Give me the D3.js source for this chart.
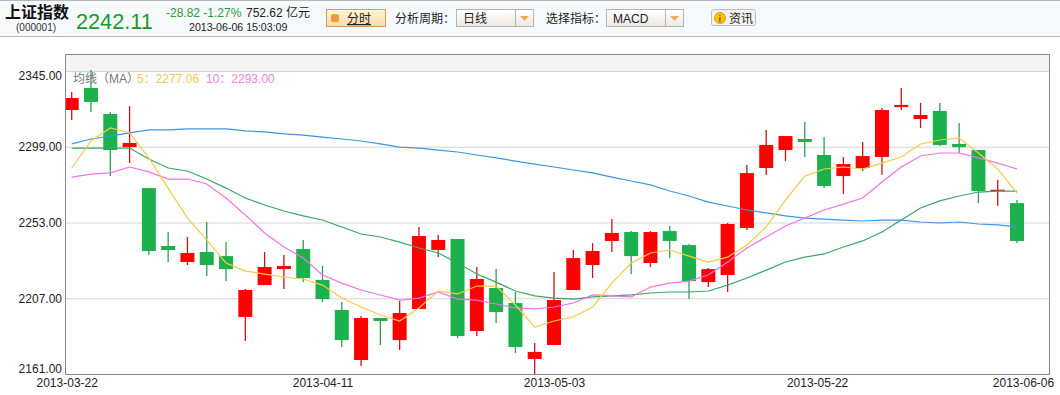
<!DOCTYPE html>
<html>
<head>
<meta charset="utf-8">
<script src="https://cdn.jsdelivr.net/npm/d3@7"></script>
<style>
  html, body { margin: 0; padding: 0; background: #fff; overflow: hidden; }
  text { font-family: "Liberation Sans", Arial, sans-serif; }
  .cjk { font-family: "Liberation Sans", "Noto Sans CJK SC", sans-serif; }
</style>
</head>
<body>
<div id="chart"></div>
<script>
const yTicks = [2345, 2299, 2253, 2207, 2161]
const tickDays = [0, 13, 25, 39, 49]
const tickDates = ["2013-03-22", "2013-04-11", "2013-05-03", "2013-05-22", "2013-06-06"]

const opens = [2321.3,2334.7,2318.9,2298.8,2273.9,2238.7,2229.0,2235.1,2232.6,2195.6,
  2215.0,2224.7,2236.9,2218.1,2199.9,2169.5,2195.0,2181.6,2200.5,2236.3,
  2243.0,2187.1,2213.2,2204.1,2170.1,2178.6,2212.0,2227.2,2241.8,2247.2,
  2228.4,2247.8,2239.3,2216.8,2221.1,2249.7,2286.1,2297.0,2303.7,2294.0,
  2281.2,2286.1,2292.8,2323.1,2315.8,2320.7,2300.7,2297.0,2272.3,2264.8]
const closes = [2328.6,2326.2,2297.0,2301.3,2235.7,2236.3,2234.5,2227.2,2224.7,2212.0,
  2226.0,2226.6,2219.3,2206.5,2181.6,2195.0,2193.2,2198.0,2244.8,2242.4,
  2184.1,2218.7,2198.6,2177.4,2174.4,2205.9,2231.4,2235.7,2246.6,2232.6,
  2247.2,2241.8,2217.4,2224.7,2252.1,2283.0,2300.1,2305.5,2301.9,2275.2,
  2288.5,2293.4,2321.3,2324.4,2318.3,2300.1,2298.8,2272.1,2272.9,2241.8]
const highs = [2332.2,2345.6,2320.1,2323.7,2273.9,2247.2,2244.2,2253.3,2241.1,2212.6,
  2235.1,2233.3,2242.4,2226.6,2204.7,2196.2,2195.0,2205.3,2250.3,2245.4,
  2243.0,2226.0,2224.7,2210.8,2179.8,2222.9,2236.3,2240.5,2255.1,2247.8,
  2247.8,2250.9,2239.9,2225.4,2252.7,2287.9,2309.2,2305.5,2314.0,2304.9,
  2292.8,2301.9,2322.5,2334.7,2325.6,2325.6,2313.4,2297.0,2279.0,2266.7]
const lows = [2315.2,2320.1,2281.2,2289.1,2233.3,2229.0,2227.2,2220.5,2217.4,2181.0,
  2215.0,2212.6,2216.8,2204.7,2177.4,2165.8,2178.6,2175.6,2200.5,2232.0,
  2182.9,2184.1,2192.0,2173.8,2161.0,2178.6,2212.0,2219.3,2235.1,2221.7,
  2226.0,2231.4,2206.5,2213.8,2210.8,2248.5,2281.8,2290.3,2292.8,2273.9,
  2270.3,2284.3,2281.8,2321.3,2310.4,2299.5,2295.2,2264.8,2263.2,2240.5]

const ma5 = [2286.1,2302.5,2310.4,2307.4,2292.2,2273.9,2255.7,2242.4,2228.4,2223.5,
  2221.7,2219.9,2218.7,2215.0,2207.1,2201.7,2196.8,2193.2,2201.1,2211.4,
  2209.6,2214.4,2214.4,2202.9,2189.5,2193.2,2195.6,2201.7,2216.2,2228.4,
  2234.5,2236.3,2232.6,2229.0,2232.0,2239.3,2250.3,2266.7,2281.2,2285.5,
  2286.7,2285.5,2289.1,2292.8,2300.7,2303.1,2304.3,2295.2,2285.5,2270.9]
const ma10 = [2280.6,2282.4,2283.1,2286.7,2283.7,2279.4,2279.4,2276.4,2267.9,2257.6,
  2246.6,2238.1,2231.4,2221.1,2216.2,2212.0,2209.0,2205.9,2207.1,2210.8,
  2206.5,2205.9,2203.5,2201.1,2200.5,2201.7,2204.1,2209.0,2208.4,2207.8,
  2213.8,2216.2,2217.4,2221.1,2229.0,2237.5,2244.2,2250.9,2255.7,2260.6,
  2264.2,2267.9,2277.6,2286.7,2293.4,2295.2,2295.2,2292.2,2289.1,2285.5]
const ma20 = [2298.2,2298.2,2298.2,2298.2,2291.6,2286.1,2284.3,2279.4,2273.9,2267.9,
  2263.6,2260.0,2257.0,2254.5,2250.3,2246.0,2244.2,2241.1,2237.5,2234.5,
  2228.4,2221.7,2216.8,2211.4,2208.4,2207.1,2206.5,2207.8,2208.4,2209.0,
  2210.2,2210.8,2210.8,2211.4,2215.0,2219.3,2224.1,2229.0,2232.0,2233.9,
  2238.1,2241.8,2247.2,2254.5,2261.8,2266.1,2269.1,2271.5,2272.1,2272.1]
const ma30 = [2300.7,2303.7,2305.5,2307.4,2309.2,2309.2,2309.8,2309.8,2309.8,2308.6,
  2308.0,2306.8,2306.1,2304.9,2303.7,2302.5,2300.7,2298.8,2298.2,2297.0,
  2295.8,2294.0,2292.2,2290.3,2288.5,2286.7,2284.9,2283.1,2280.6,2278.2,
  2275.8,2272.1,2269.1,2265.4,2263.0,2260.6,2258.8,2257.0,2255.7,2255.1,
  2254.5,2253.9,2254.5,2254.5,2253.3,2252.7,2253.3,2252.1,2251.5,2250.3]

const width = 1060, height = 395
const plotLeft = 65, plotRight = 1049, plotTop = 71, plotBottom = 374, bandTop = 54

let svg = d3.select("#chart").append("svg")
            .attr("width", width)
            .attr("height", height)
            .style("display", "block")

let defs = svg.append("defs")
let headGrad = defs.append("linearGradient").attr("id", "btnGrad").attr("x2", 0).attr("y2", 1)
headGrad.append("stop").attr("offset", 0).attr("stop-color", "#fff6e6")
headGrad.append("stop").attr("offset", 1).attr("stop-color", "#fcd9a4")
let selGrad = defs.append("linearGradient").attr("id", "selGrad").attr("x2", 0).attr("y2", 1)
selGrad.append("stop").attr("offset", 0).attr("stop-color", "#ffffff")
selGrad.append("stop").attr("offset", 1).attr("stop-color", "#ece9e4")
defs.append("clipPath").attr("id", "plotClip").append("rect")
    .attr("x", plotLeft).attr("y", plotTop - 2).attr("width", plotRight - plotLeft).attr("height", plotBottom - plotTop + 2)

// header strip
svg.append("rect").attr("width", width).attr("height", 36).attr("fill", "#f6fafd")
svg.append("line").attr("x1", 0).attr("x2", width).attr("y1", 0.5).attr("y2", 0.5).attr("stroke", "#b8b8b8")
svg.append("line").attr("x1", 0).attr("x2", width).attr("y1", 36.5).attr("y2", 36.5).attr("stroke", "#b8b8b8")

function headText(x, y, str, size, color, weight) {
  return svg.append("text").attr("class", "cjk").attr("x", x).attr("y", y)
            .attr("font-size", size).attr("fill", color).attr("font-weight", weight || "normal").text(str)
}

headText(5, 18, "上证指数", 16, "#111", "bold")
headText(16, 31, "(000001)", 10, "#333")
headText(76, 29, "2242.11", 21.7, "#1a9a2a")
headText(166, 17, "-28.82 -1.27%", 12, "#2a9a3a")
headText(246, 17, "752.62 亿元", 12, "#222")
headText(189, 31, "2013-06-06 15:03:09", 10.6, "#222")

svg.append("rect").attr("x", 326.5).attr("y", 9.5).attr("width", 59).attr("height", 17)
   .attr("fill", "url(#btnGrad)").attr("stroke", "#e09a45")
svg.append("rect").attr("x", 331).attr("y", 14).attr("width", 8).attr("height", 8).attr("rx", 2).attr("fill", "#ef9a3c")
headText(347, 23, "分时", 12, "#222").attr("text-decoration", "underline")

function selectBox(x, label) {
  svg.append("rect").attr("x", x + 0.5).attr("y", 9.5).attr("width", 77).attr("height", 17)
     .attr("fill", "url(#selGrad)").attr("stroke", "#b5b5b5")
  svg.append("line").attr("x1", x + 59.5).attr("x2", x + 59.5).attr("y1", 10).attr("y2", 26).attr("stroke", "#b5b5b5")
  svg.append("path").attr("d", `M${x + 64},16 h9 l-4.5,5 z`).attr("fill", "#f2a85a")
  headText(x + 7, 23, label, 12, "#222")
}
headText(395, 23, "分析周期：", 12, "#222")
selectBox(456, "日线")
headText(546, 23, "选择指标：", 12, "#222")
selectBox(606, "MACD")

svg.append("rect").attr("x", 711.5).attr("y", 9.5).attr("width", 44).attr("height", 16).attr("rx", 2)
   .attr("fill", "#f4f2ee").attr("stroke", "#bdbdbd")
svg.append("circle").attr("cx", 720).attr("cy", 18).attr("r", 5.5).attr("fill", "#f5c400").attr("stroke", "#e09a20")
headText(718.5, 22, "i", 9, "#8a4b00", "bold")
headText(729, 23, "资讯", 12, "#222")

// plot frame
svg.append("rect").attr("x", plotLeft).attr("y", bandTop).attr("width", plotRight - plotLeft).attr("height", plotTop - bandTop)
   .attr("fill", "#f4f4f4")

let xScale = d3.scaleLinear([0, opens.length - 1], [71.7, 1017])
let yScale = d3.scaleLinear([2161, 2345], [plotBottom, plotTop])

// y axis with gridlines
let yAxisG = svg.append("g")
   .attr("transform", `translate(${plotLeft}, 0)`)
   .call(d3.axisLeft(yScale).tickValues(yTicks).tickFormat(d => d.toFixed(2)).tickSize(0).tickPadding(3))
yAxisG.select(".domain").remove()
yAxisG.selectAll("text")
   .style("font-family", "'Liberation Sans', Arial, sans-serif")
   .style("font-size", "12px")
   .attr("fill", "#222")
   .attr("dy", d => d == 2345 ? "0.67em" : d == 2161 ? "-0.12em" : "0.32em")
yAxisG.selectAll(".tick").append("line")
   .attr("x1", 0).attr("x2", plotRight - plotLeft).attr("stroke", "#d6d6d6")

// x axis labels
let xLabelShift = [-5, 0, 0, -7, 6]
let xAxisG = svg.append("g")
   .attr("transform", `translate(0, ${plotBottom})`)
   .call(d3.axisBottom(xScale).tickValues(tickDays).tickFormat((d, i) => tickDates[i]).tickSize(0).tickPadding(4))
xAxisG.select(".domain").remove()
xAxisG.selectAll("text")
   .style("font-family", "'Liberation Sans', Arial, sans-serif")
   .style("font-size", "12px")
   .attr("fill", "#222")
   .attr("dx", (d, i) => xLabelShift[i])

// candles
let candles = svg.append("g").attr("clip-path", "url(#plotClip)")
let bodyW = 14
let upColor = "#ff0000", downColor = "#1bb14c"
let days = d3.range(opens.length)

candles.selectAll(".wick").data(days).enter().append("line")
   .attr("class", "wick")
   .attr("x1", d => xScale(d)).attr("x2", d => xScale(d))
   .attr("y1", d => yScale(highs[d])).attr("y2", d => yScale(lows[d]))
   .attr("stroke", d => closes[d] >= opens[d] ? "#c81414" : "#2f9e55")
   .attr("stroke-width", 1.3)

candles.selectAll(".body").data(days).enter().append("rect")
   .attr("class", "body")
   .attr("x", d => xScale(d) - bodyW / 2)
   .attr("width", bodyW)
   .attr("y", d => yScale(Math.max(opens[d], closes[d])))
   .attr("height", d => Math.max(1.5, Math.abs(yScale(opens[d]) - yScale(closes[d]))))
   .attr("fill", d => closes[d] >= opens[d] ? upColor : downColor)

// moving averages
let maLine = d3.line().x((d, i) => xScale(i)).y(d => yScale(d))
let maSeries = [[ma30, "#3b97e3"], [ma20, "#3aa765"], [ma10, "#f272ea"], [ma5, "#f7cb45"]]
for (let s of maSeries) {
  svg.append("path").datum(s[0])
     .attr("d", maLine)
     .attr("fill", "none")
     .attr("stroke", s[1])
     .attr("stroke-width", 1.2)
}

// frame on top
svg.append("path")
   .attr("d", `M${plotLeft + 0.5},${plotBottom + 0.5} V${bandTop + 0.5} H${plotRight + 0.5} V${plotBottom + 0.5} Z`)
   .attr("fill", "none").attr("stroke", "#888")

// legend
headText(73, 83, "均线（MA）", 12, "#777")
headText(137, 83, "5：2277.06", 12, "#f2c94c")
headText(206, 83, "10：2293.00", 12, "#ef7fe6")
</script>
</body>
</html>
